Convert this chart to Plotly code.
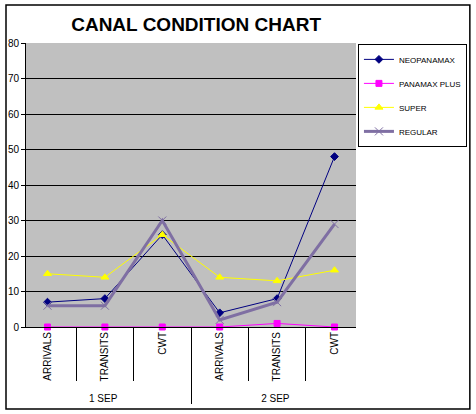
import plotly.graph_objects as go

groups = ["1 SEP", "1 SEP", "1 SEP", "2 SEP", "2 SEP", "2 SEP"]
stages = ["ARRIVALS", "TRANSITS", "CWT", "ARRIVALS", "TRANSITS", "CWT"]

neopanamax = [7, 8, 26, 4, 8, 48]
panamax_plus = [0, 0, 0, 0, 1, 0]
super_ = [15, 14, 26, 14, 13, 16]
regular = [6, 6, 30, 2, 7, 29]

series = [
    ("NEOPANAMAX", neopanamax, "#000080", 1, "diamond", 6),
    ("PANAMAX PLUS", panamax_plus, "#FF00FF", 1, "square", 6),
    ("SUPER", super_, "#FFFF00", 1, "triangle-up", 7),
    ("REGULAR", regular, "#7F6FA3", 3, "x-thin", 8),
]

fig = go.Figure()
for i, (name, vals, color, lw, sym, ms) in enumerate(series):
    fig.add_trace(go.Scatter(
        x=[groups, stages], y=vals, name=name, mode="lines+markers",
        line=dict(color=color, width=lw),
        marker=dict(symbol=sym, size=ms, color=color,
                    line=dict(color=color, width=1)),
        legendgroup=str(i), cliponaxis=False,
    ))

fig.update_layout(
    width=476, height=414,
    margin=dict(l=26, r=120, t=43, b=87),
    paper_bgcolor="white", plot_bgcolor="#C0C0C0",
    font=dict(family="Arial, Liberation Sans", size=10, color="black"),
    title=dict(text="<b>CANAL CONDITION CHART</b>", x=0.412, xanchor="center",
               y=0.942, yanchor="middle",
               font=dict(family="Arial, Liberation Sans", size=19, color="black")),
    showlegend=True,
    legend=dict(xref="container", yref="container", x=0.752, y=0.894,
                xanchor="left", yanchor="top",
                bordercolor="black", borderwidth=1, bgcolor="white",
                font=dict(size=8), traceorder="grouped", tracegroupgap=5,
                itemwidth=30),
    shapes=[dict(type="rect", xref="paper", yref="paper",
                 x0=-0.0606, x1=1.345, y0=-0.289, y1=1.134,
                 line=dict(color="black", width=1.5), fillcolor="rgba(0,0,0,0)",
                 layer="below")],
)
fig.update_xaxes(
    type="multicategory", showline=True, linecolor="black", linewidth=1,
    ticks="outside", ticklen=53, tickcolor="black", tickangle=-90,
    showdividers=True, dividercolor="black", dividerwidth=1,
    showgrid=False, mirror=False, tickfont=dict(size=10), automargin=False,
)
fig.update_yaxes(
    range=[0, 80], dtick=10, showline=True, linecolor="black", linewidth=1,
    ticks="outside", ticklen=4, tickcolor="black",
    showgrid=True, gridcolor="black", gridwidth=1, zeroline=False,
    tickfont=dict(size=10), automargin=False,
)

fig.write_html("out.html", config={"displayModeBar": False},
               post_script="document.body.style.margin='0';document.body.style.overflow='hidden';")
